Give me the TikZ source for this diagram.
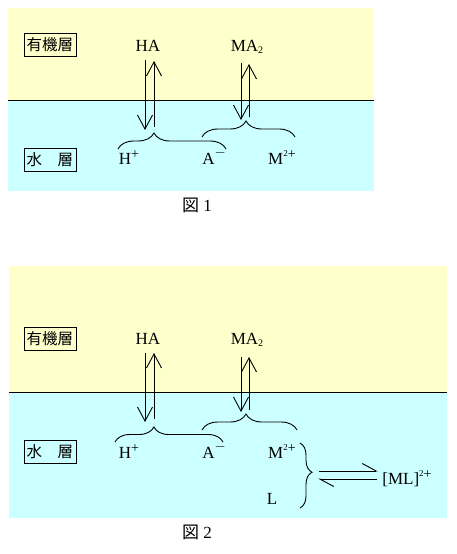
\documentclass[tikz,border=0pt]{standalone}
\usepackage{fontspec}
\setmainfont{Liberation Serif}
\newfontfamily\jp{Noto Sans CJK JP}
\usetikzlibrary{arrows.meta,decorations.pathreplacing}
\definecolor{orgc}{RGB}{255,255,204}
\definecolor{aqc}{RGB}{204,255,255}
\newcommand\supplus{\raisebox{0.3em}{\fontsize{14}{14}\selectfont +}}
\newcommand\supminus{\raisebox{0.42em}{\fontsize{14}{14}\selectfont $-$}}
\newcommand\suptwo{\raisebox{0.45em}{\fontsize{9}{9}\selectfont 2}}
\newcommand\subtwo{\raisebox{-0.15em}{\fontsize{10}{10}\selectfont 2}}
\begin{document}
\begin{tikzpicture}[x=1pt,y=-1pt,
  chem/.style={font=\fontsize{17}{19}\selectfont, inner sep=0pt, anchor=base},
  layer/.style={draw, line width=0.9pt, font=\jp\fontsize{15.5}{17}\selectfont, inner sep=0pt, minimum width=52pt, minimum height=23pt},
  figcap/.style={font=\fontsize{17}{19}\selectfont, inner sep=0pt, anchor=base},
  eqarrow/.style={-{Straight Barb[length=14pt,width=15pt]}, line width=0.9pt},
  brc/.style={decorate, line width=0.9pt},
  harp/.style={-{Straight Barb[left,length=14pt,width=15pt]}, line width=0.9pt}]
\useasboundingbox (0,0) rectangle (456,554);
% ---------- Figure 1 ----------
\fill[orgc] (8,8) rectangle (374,100);
\fill[aqc] (8,100) rectangle (374,191);
\draw[line width=0.9pt] (8,100) -- (374,100);
\node[layer] (org1) at (50,45) {有機層};
\node[layer] (aq1) at (50,159.5) {水　層};
\node[chem] (ha1) at (148,51) {HA};
\node[chem] (ma1) at (247,51) {MA\subtwo};
\node[chem] (h1) at (129,164) {H\supplus};
\node[chem] (a1) at (214,164) {A\supminus};
\node[chem] (m1) at (282,164) {M\suptwo\supplus};
\node[figcap] (f1) at (197,211) {{\jp 図}\ 1};
\coordinate (ha1d) at (145,60); \coordinate (ha1e) at (145,130);
\coordinate (ha1u) at (154,127); \coordinate (ha1v) at (154,61);
\coordinate (ma1d) at (241,63); \coordinate (ma1e) at (241,120);
\coordinate (ma1u) at (249,117); \coordinate (ma1v) at (249,64);
\draw[eqarrow] (ha1d) -- (ha1e);
\draw[eqarrow] (ha1u) -- (ha1v);
\draw[eqarrow] (ma1d) -- (ma1e);
\draw[eqarrow] (ma1u) -- (ma1v);
\coordinate (b1l) at (118,149); \coordinate (b1r) at (226,149);
\coordinate (b2l) at (202,137); \coordinate (b2r) at (295,137);
\draw[brc, decoration={brace, amplitude=16pt, aspect=0.333}] (b1l) -- (b1r);
\draw[brc, decoration={brace, amplitude=16pt, aspect=0.473}] (b2l) -- (b2r);
% ---------- Figure 2 ----------
\fill[orgc] (9,266) rectangle (447,392);
\fill[aqc] (9,392) rectangle (447,518);
\draw[line width=0.9pt] (9,392) -- (447,392);
\node[layer] (org2) at (50,339) {有機層};
\node[layer] (aq2) at (50,451.5) {水　層};
\node[chem] (ha2) at (148,344) {HA};
\node[chem] (ma2) at (247,344) {MA\subtwo};
\node[chem] (h2) at (129,458) {H\supplus};
\node[chem] (a2) at (214,458) {A\supminus};
\node[chem] (m2) at (282,458) {M\suptwo\supplus};
\node[chem] (l2) at (272,504) {L};
\node[chem] (ml2) at (407,484) {[ML]\suptwo\supplus};
\node[figcap] (f2) at (197,538) {{\jp 図}\ 2};
\coordinate (ha2d) at (145,353); \coordinate (ha2e) at (145,422);
\coordinate (ha2u) at (154,419); \coordinate (ha2v) at (154,353);
\coordinate (ma2d) at (241,357); \coordinate (ma2e) at (241,412);
\coordinate (ma2u) at (249,410); \coordinate (ma2v) at (249,357);
\draw[eqarrow] (ha2d) -- (ha2e);
\draw[eqarrow] (ha2u) -- (ha2v);
\draw[eqarrow] (ma2d) -- (ma2e);
\draw[eqarrow] (ma2u) -- (ma2v);
\coordinate (c1l) at (115,442); \coordinate (c1r) at (223,442);
\coordinate (c2l) at (202,430); \coordinate (c2r) at (297,430);
\draw[brc, decoration={brace, amplitude=15pt, aspect=0.36}] (c1l) -- (c1r);
\draw[brc, decoration={brace, amplitude=16pt, aspect=0.463}] (c2l) -- (c2r);
\coordinate (rbt) at (300,443); \coordinate (rbb) at (300,508);
\draw[brc, decoration={brace, amplitude=12pt, aspect=0.45}] (rbt) -- (rbb);
\coordinate (eqa) at (319,471); \coordinate (eqb) at (378,471);
\coordinate (eqc) at (377,479); \coordinate (eqd) at (318,479);
\draw[harp] (eqa) -- (eqb);
\draw[harp] (eqc) -- (eqd);
\end{tikzpicture}
\end{document}
